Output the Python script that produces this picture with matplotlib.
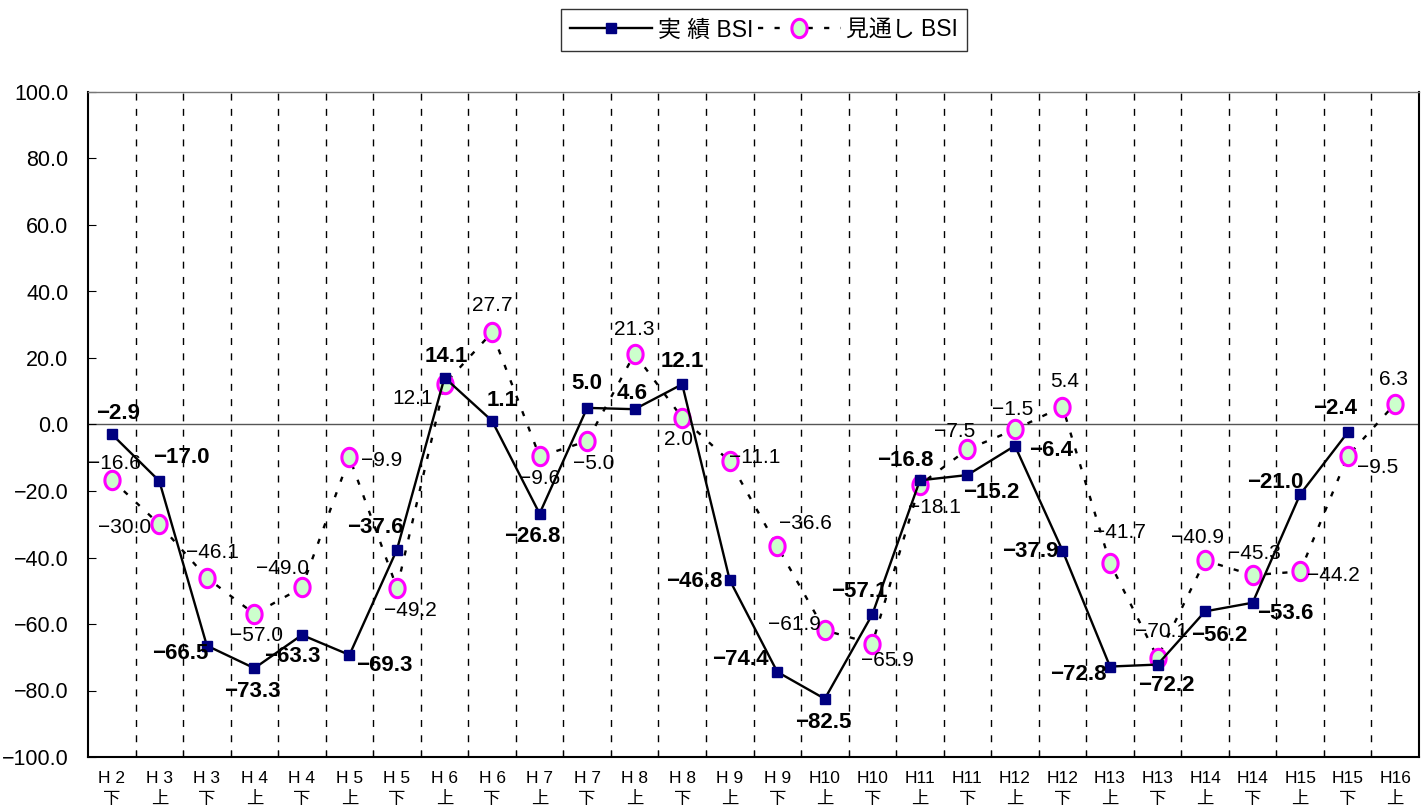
import matplotlib
matplotlib.use("Agg")
import matplotlib.pyplot as plt
from matplotlib import font_manager as fm
from matplotlib.path import Path
import matplotlib.transforms as mtrans
import numpy as np

categories = ["H 2\n下", "H 3\n上", "H 3\n下", "H 4\n上", "H 4\n下", "H 5\n上", "H 5\n下",
              "H 6\n上", "H 6\n下", "H 7\n上", "H 7\n下", "H 8\n上", "H 8\n下",
              "H 9\n上", "H 9\n下", "H10\n上", "H10\n下", "H11\n上", "H11\n下",
              "H12\n上", "H12\n下", "H13\n上", "H13\n下", "H14\n上", "H14\n下",
              "H15\n上", "H15\n下", "H16\n上"]
actual = [-2.9, -17.0, -66.5, -73.3, -63.3, -69.3, -37.6, 14.1, 1.1, -26.8, 5.0, 4.6, 12.1,
          -46.8, -74.4, -82.5, -57.1, -16.8, -15.2, -6.4, -37.9, -72.8, -72.2, -56.2, -53.6,
          -21.0, -2.4]
forecast = [-16.6, -30.0, -46.1, -57.0, -49.0, -9.9, -49.2, 12.1, 27.7, -9.6, -5.0, 21.3, 2.0,
            -11.1, -36.6, -61.9, -65.9, -18.1, -7.5, -1.5, 5.4, -41.7, -70.1, -40.9, -45.3,
            -44.2, -9.5, 6.3]
y_ticks = [-100, -80, -60, -40, -20, 0, 20, 40, 60, 80, 100]

# label offsets in pixels (dx, dy up-positive)
actual_off = [(6, 21), (22, 24), (-27, -8), (-2, -23), (-10, -22), (35, -11), (-22, 22),
              (2, 21), (10, 20), (-7, -23), (0, 24), (-3, 16), (0, 23), (-36, -1), (-37, 12),
              (-2, -24), (-13, 23), (-15, 20), (24, -17), (36, -5), (-32, -1), (-32, -8),
              (9, -21), (14, -24), (33, -11), (-25, 12), (-13, 24)]
fore_off = [(3, 16), (-35, -3), (6, 25), (2, -21), (-19, 19), (32, -3), (13, -22), (-32, -14),
            (0, 27), (0, -22), (7, -22), (0, 24), (-4, -22), (25, 4), (28, 23), (-30, 6),
            (15, -17), (15, -23), (-13, 18), (-2, 20), (2, 25), (9, 31), (4, 26), (-8, 23),
            (2, 22), (33, -4), (30, -11), (-2, 24)]

names = {f.name for f in fm.fontManager.ttflist}
num_font = "Liberation Sans Narrow" if "Liberation Sans Narrow" in names else "Liberation Sans"
fam = [num_font, "Noto Sans CJK JP", "DejaVu Sans"]
plt.rcParams['font.family'] = fam
plt.rcParams['axes.unicode_minus'] = True

# ellipse marker (taller than wide)
t = np.linspace(0, 2 * np.pi, 64)
ell = Path(np.column_stack([0.83 * np.cos(t), np.sin(t)]), closed=True)

fig = plt.figure(figsize=(14.28, 8.07), dpi=100)
ax = fig.add_axes([88/1428, 1-757/807, (1419-88)/1428, (757-92)/807])

n = len(categories)
x = np.arange(n)
ax.set_xlim(-0.5, n - 0.5)
ax.set_ylim(-100, 100)

for b in np.arange(0.5, n - 0.5, 1.0):
    ax.axvline(b, color="black", lw=1.0, linestyle=(0, (5, 6)), zorder=1)
ax.axhline(0, color="#555555", lw=1.0, zorder=1)

xa = x[:len(actual)]
ax.plot(xa, actual, color="black", lw=1.7, marker="s", markersize=7.5,
        markerfacecolor="#000080", markeredgecolor="#000080", zorder=4, label="実 績 BSI")
ax.plot(x, forecast, color="black", lw=1.7, linestyle=(0, (2.2, 4.8)), marker=ell,
        markersize=13.2, markerfacecolor="#ccffcc", markeredgecolor="#ff00ff",
        markeredgewidth=2.2, zorder=3, label="見通し BSI")

def fmt(v):
    s = f"{abs(v):.1f}"
    return ("\u2212" + s) if v < 0 else s

for xi, v, (dx, dy) in zip(xa, actual, actual_off):
    ax.annotate(fmt(v), (xi, v), xytext=(dx, dy), textcoords="offset pixels",
                ha="center", va="center", fontsize=16, fontweight="bold",
                family=fam, zorder=6)
for xi, v, (dx, dy) in zip(x, forecast, fore_off):
    ax.annotate(fmt(v), (xi, v), xytext=(dx, dy), textcoords="offset pixels",
                ha="center", va="center", fontsize=15, family=fam, zorder=6)

ax.set_yticks(y_ticks)
ax.set_yticklabels([fmt(v) for v in y_ticks], fontsize=15.5, family=fam)
ax.tick_params(axis="y", direction="in", length=6, pad=14)
ax.set_xticks(np.arange(0.5, n - 0.5, 1.0))
ax.set_xticklabels([])
ax.tick_params(axis="x", direction="in", length=5)
lab_tr = mtrans.offset_copy(ax.transData, fig=fig, y=-14, units="dots")
for xi, c in zip(x, categories):
    ax.text(xi, -100, c, transform=lab_tr, ha="center", va="top",
            fontsize=12.5, family=fam, linespacing=1.5)

for s in ["left", "right", "bottom"]:
    ax.spines[s].set_color("black")
    ax.spines[s].set_linewidth(1.5)
ax.spines["top"].set_color("#777777")
ax.spines["top"].set_linewidth(1.0)

leg = fig.legend(loc="center", bbox_to_anchor=(764/1428, 1-30/807), ncol=2,
                 frameon=True, fancybox=False, edgecolor="black",
                 handlelength=3.6, columnspacing=0.2, handletextpad=0.25,
                 borderpad=0.4, prop={"family": fam, "size": 16.5})
leg.get_frame().set_linewidth(1.0)

fig.savefig("out.png", dpi=100)
